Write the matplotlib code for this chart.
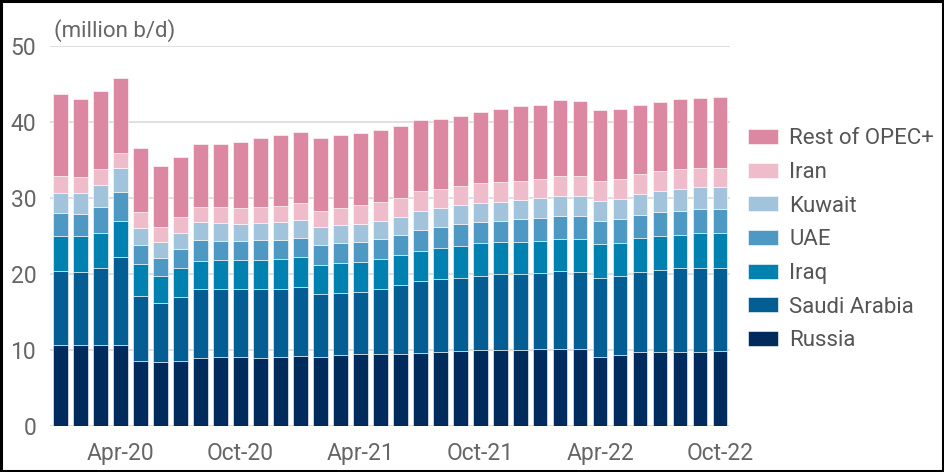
import numpy as np
import matplotlib
matplotlib.use("Agg")
import matplotlib.pyplot as plt
from matplotlib.patches import Rectangle

plt.rcParams['font.family'] = ['Roboto', 'DejaVu Sans']

months = ["Jan-20", "Feb-20", "Mar-20", "Apr-20", "May-20", "Jun-20", "Jul-20", "Aug-20",
          "Sep-20", "Oct-20", "Nov-20", "Dec-20", "Jan-21", "Feb-21", "Mar-21", "Apr-21",
          "May-21", "Jun-21", "Jul-21", "Aug-21", "Sep-21", "Oct-21", "Nov-21", "Dec-21",
          "Jan-22", "Feb-22", "Mar-22", "Apr-22", "May-22", "Jun-22", "Jul-22", "Aug-22",
          "Sep-22", "Oct-22"]

# million b/d
russia = [10.6, 10.6, 10.6, 10.6, 8.5, 8.4, 8.5, 8.95, 9.0, 9.0, 8.95, 9.0, 9.2, 9.1, 9.25, 9.4,
          9.4, 9.4, 9.6, 9.7, 9.8, 9.9, 10.0, 10.0, 10.05, 10.05, 10.05, 9.1, 9.25, 9.7, 9.7, 9.7,
          9.7, 9.8]
saudi = [9.75, 9.6, 10.1, 11.65, 8.55, 7.7, 8.5, 9.05, 9.0, 9.0, 9.05, 9.0, 9.1, 8.2, 8.15, 8.2,
         8.6, 9.05, 9.45, 9.6, 9.7, 9.85, 9.9, 9.9, 10.05, 10.3, 10.15, 10.4, 10.45, 10.55, 10.8, 11.0,
         11.1, 10.9]
iraq = [4.65, 4.8, 4.7, 4.65, 4.25, 3.6, 3.8, 3.7, 3.8, 3.8, 3.8, 3.9, 3.85, 3.85, 4.05, 3.95,
        3.95, 3.95, 3.95, 4.1, 4.15, 4.25, 4.3, 4.3, 4.25, 4.25, 4.4, 4.4, 4.4, 4.45, 4.5, 4.45,
        4.55, 4.6]
uae = [3.0, 2.9, 3.4, 3.8, 2.5, 2.4, 2.45, 2.75, 2.5, 2.5, 2.6, 2.55, 2.6, 2.65, 2.55, 2.65,
       2.65, 2.65, 2.8, 2.8, 2.85, 2.75, 2.8, 2.95, 2.95, 3.0, 3.0, 3.05, 3.1, 3.05, 3.15, 3.15,
       3.2, 3.25]
kuwait = [2.6, 2.7, 2.9, 3.2, 2.15, 2.1, 2.15, 2.35, 2.35, 2.3, 2.25, 2.35, 2.35, 2.3, 2.4, 2.35,
          2.4, 2.45, 2.45, 2.5, 2.5, 2.55, 2.5, 2.5, 2.6, 2.6, 2.6, 2.65, 2.65, 2.75, 2.75, 2.8,
          2.85, 2.85]
iran = [2.2, 2.1, 2.1, 2.0, 2.15, 2.0, 2.0, 2.0, 2.15, 2.0, 2.15, 2.15, 2.2, 2.2, 2.3, 2.55,
        2.5, 2.5, 2.65, 2.5, 2.6, 2.6, 2.6, 2.55, 2.55, 2.6, 2.6, 2.6, 2.6, 2.6, 2.6, 2.7,
        2.55, 2.55]
rest = [10.8, 10.25, 10.25, 9.9, 8.5, 8.0, 8.0, 8.25, 8.25, 8.7, 9.1, 9.25, 9.3, 9.55, 9.6, 9.45,
        9.45, 9.5, 9.35, 9.1, 9.2, 9.4, 9.6, 9.85, 9.8, 10.0, 9.9, 9.4, 9.25, 9.05, 9.15, 9.15,
        9.15, 9.35]

series = [("Russia", russia, "#012B5D"),
          ("Saudi Arabia", saudi, "#045E94"),
          ("Iraq", iraq, "#0081AF"),
          ("UAE", uae, "#4E99C4"),
          ("Kuwait", kuwait, "#A1C3DC"),
          ("Iran", iran, "#EEBCCB"),
          ("Rest of OPEC+", rest, "#DD88A2")]

x = np.arange(len(months))

fig = plt.figure(figsize=(9.44, 4.72), dpi=100)
ax = fig.add_axes([0.053, 0.0981, 0.720, 0.805])

bottom = np.zeros(len(months))
handles = []
for name, vals, col in series:
    vals = np.array(vals)
    b = ax.bar(x, vals, width=0.72, bottom=bottom, color=col,
               edgecolor="white", linewidth=0.4, label=name, zorder=3)
    handles.append(b)
    bottom += vals

ax.set_xlim(-0.525, 33.475)
ax.set_ylim(0, 50)
ax.set_yticks([0, 10, 20, 30, 40, 50])
tick_pos = [3, 9, 15, 21, 27, 33]
ax.set_xticks(tick_pos)
ax.set_xticklabels([months[i] for i in tick_pos])
ax.tick_params(axis='both', length=0, labelsize=16.5, labelcolor="#666666")
ax.tick_params(axis='x', pad=12)
ax.tick_params(axis='y', pad=10)
ax.grid(True, axis='y', color="#DDDDDD", linewidth=1.3, zorder=0)
for s in ax.spines.values():
    s.set_visible(False)

fig.text(0.057, 0.936, "(million b/d)", fontsize=16, color="#666666", va="center", ha="left")

leg = fig.legend(handles[::-1], [s[0] for s in series][::-1], loc="center left",
                 bbox_to_anchor=(0.783, 0.492), frameon=False, fontsize=16,
                 handlelength=1.35, handleheight=0.66, handletextpad=0.5,
                 labelspacing=0.57, borderaxespad=0)
for t in leg.get_texts():
    t.set_color("#555555")

fig.patches.append(Rectangle((0.0015, 0.003), 0.997, 0.994, transform=fig.transFigure,
                             fill=False, edgecolor="black", linewidth=2.2))

fig.savefig("out.png", dpi=100, facecolor="white")
